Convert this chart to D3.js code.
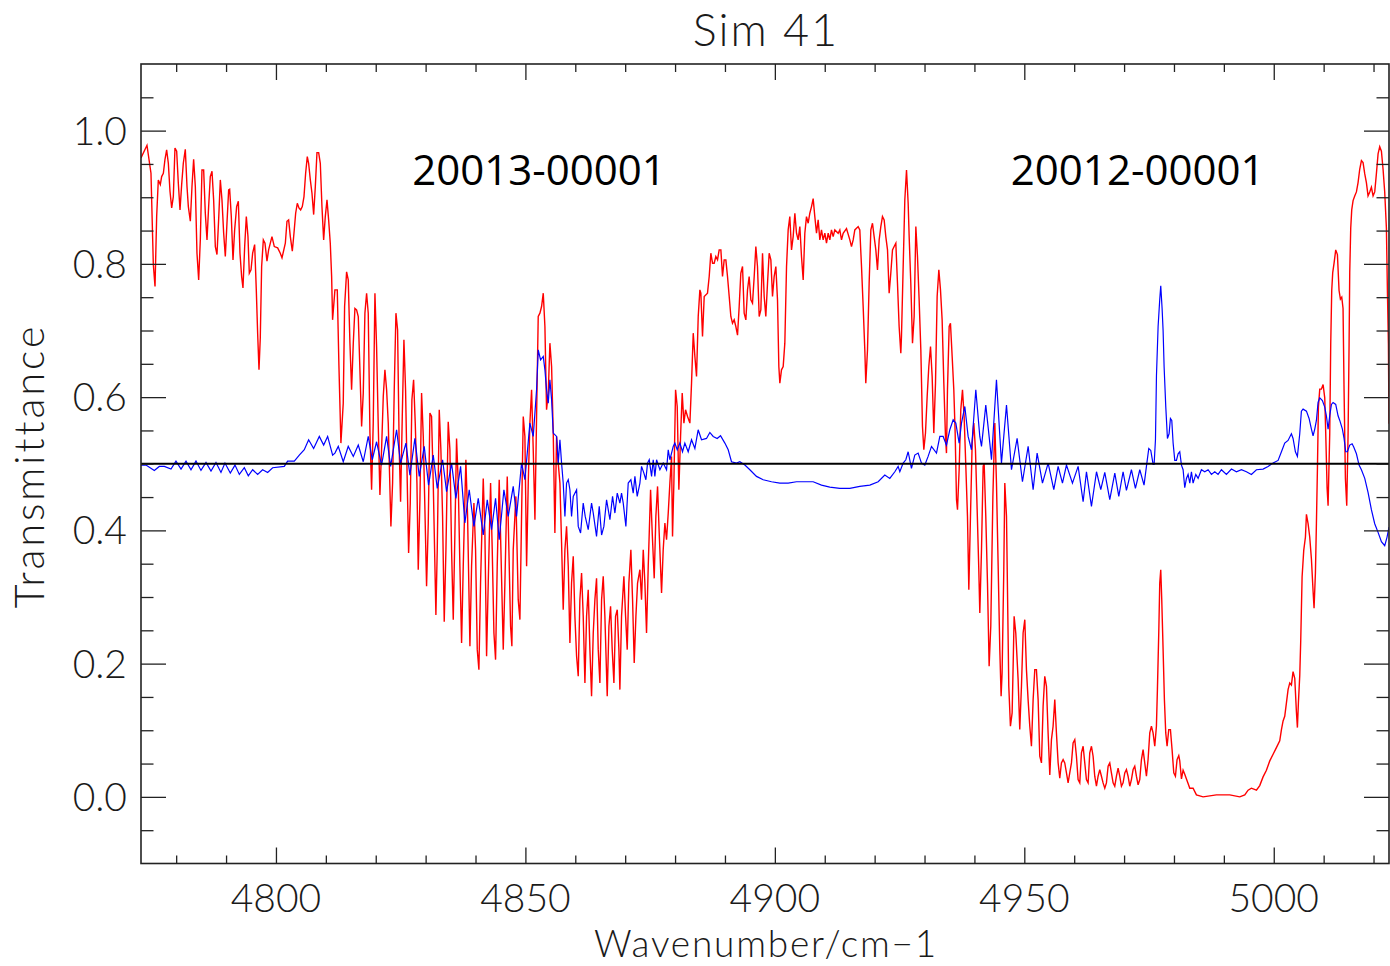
<!DOCTYPE html>
<html>
<head>
<meta charset="utf-8">
<script src="https://cdn.jsdelivr.net/npm/d3@7"></script>
<style>
  html, body { margin: 0; padding: 0; background: #fff; }
  svg { display: block; }
  .idl { font-family: "Lato", "DejaVu Sans", sans-serif; font-weight: 300; fill: #1a1a1a; }
  .band { font-family: "Open Sans", "Noto Sans", sans-serif; font-weight: 400; fill: #000; }
</style>
</head>
<body>
<svg id="chart" width="1390" height="966"></svg>
<script>
// ---------------- DATA ----------------
const chartTitle = "Sim 41";
const xTitle = "Wavenumber/cm\u22121";
const yTitle = "Transmittance";
const bandLabels = ["20013-00001", "20012-00001"];
const bandLabelWn = [4827.3, 4947.3];      // left edge of the labels (wavenumber)
const bandLabelT = [0.918, 0.918];

const xMajorTicks = [4800, 4850, 4900, 4950, 5000];
const xMinorTicks = [4780, 4790, 4810, 4820, 4830, 4840, 4860, 4870, 4880, 4890, 4910, 4920, 4930, 4940, 4960, 4970, 4980, 4990, 5010, 5020];
const yMajorTicks = [0.0, 0.2, 0.4, 0.6, 0.8, 1.0];
const yTickLabels = ["0.0", "0.2", "0.4", "0.6", "0.8", "1.0"];
const yMinorTicks = [-0.05, 0.05, 0.1, 0.15, 0.25, 0.3, 0.35, 0.45, 0.5, 0.55, 0.65, 0.7, 0.75, 0.85, 0.9, 0.95, 1.05];
const referenceLevel = [0.5];

// simulated transmittance (red): [wavenumber, transmittance]
const simulated = [
[4772.95,0.959],[4774.15,0.978],[4774.95,0.936],[4775.42,0.799],[4775.76,0.766],[4776.09,0.871],[4776.42,0.926],[4776.82,0.919],[4777.09,0.931],[4777.43,0.936],[4777.76,0.957],[4778.09,0.971],[4778.43,0.951],[4778.76,0.909],[4779.1,0.884],[4779.43,0.901],[4779.76,0.974],[4780.1,0.969],[4780.43,0.921],[4780.77,0.881],[4781.1,0.919],[4781.43,0.951],[4781.83,0.972],[4782.17,0.916],[4782.44,0.886],[4782.84,0.864],[4783.17,0.916],[4783.5,0.957],[4783.84,0.916],[4784.17,0.816],[4784.51,0.776],[4784.84,0.836],[4785.17,0.941],[4785.51,0.941],[4785.84,0.876],[4786.18,0.836],[4786.51,0.886],[4786.84,0.931],[4787.18,0.939],[4787.51,0.896],[4787.85,0.826],[4788.18,0.814],[4788.51,0.866],[4788.85,0.926],[4789.18,0.896],[4789.52,0.846],[4789.85,0.811],[4790.18,0.861],[4790.52,0.911],[4790.72,0.912],[4791.05,0.871],[4791.39,0.806],[4791.72,0.851],[4792.12,0.886],[4792.46,0.894],[4792.79,0.816],[4793.12,0.781],[4793.39,0.764],[4793.73,0.826],[4794.06,0.871],[4794.39,0.841],[4794.66,0.786],[4795.0,0.791],[4795.33,0.816],[4795.73,0.829],[4796.06,0.761],[4796.33,0.696],[4796.6,0.641],[4796.86,0.689],[4797.13,0.796],[4797.47,0.836],[4797.8,0.831],[4798.2,0.804],[4798.53,0.821],[4799.2,0.841],[4799.67,0.826],[4800.34,0.824],[4800.87,0.816],[4801.21,0.809],[4801.88,0.831],[4802.21,0.864],[4802.54,0.866],[4802.88,0.841],[4803.28,0.819],[4803.61,0.846],[4803.95,0.876],[4804.28,0.891],[4804.61,0.884],[4804.95,0.881],[4805.28,0.886],[4805.62,0.901],[4805.95,0.936],[4806.28,0.961],[4806.55,0.951],[4806.89,0.926],[4807.22,0.906],[4807.56,0.874],[4807.89,0.916],[4808.22,0.967],[4808.56,0.967],[4808.89,0.951],[4809.22,0.886],[4809.56,0.836],[4809.89,0.871],[4810.23,0.896],[4810.56,0.866],[4810.89,0.831],[4811.16,0.781],
[4811.35,0.716],[4811.82,0.761],[4812.29,0.761],[4812.62,0.648],[4813.02,0.531],[4813.49,0.591],[4813.76,0.736],[4814.16,0.788],[4814.49,0.776],[4814.83,0.681],[4815.16,0.611],[4815.5,0.681],[4815.83,0.733],[4816.16,0.731],[4816.5,0.721],[4816.83,0.641],[4817.17,0.556],[4817.5,0.606],[4817.83,0.726],[4818.17,0.756],[4818.5,0.726],[4818.84,0.546],[4819.17,0.461],[4819.5,0.561],[4819.84,0.756],[4820.17,0.676],[4820.51,0.556],[4820.84,0.453],[4821.17,0.521],[4821.51,0.601],[4821.84,0.641],[4822.18,0.611],[4822.51,0.561],[4823.04,0.406],[4823.38,0.471],[4823.71,0.611],[4824.05,0.726],[4824.38,0.701],[4824.71,0.521],[4824.98,0.443],[4825.32,0.571],[4825.65,0.686],[4825.98,0.611],[4826.32,0.471],[4826.59,0.366],[4826.92,0.441],[4827.25,0.596],[4827.59,0.626],[4827.92,0.561],[4828.26,0.471],[4828.52,0.341],[4828.86,0.446],[4829.19,0.606],[4829.53,0.541],[4829.86,0.431],[4830.19,0.316],[4830.53,0.411],[4830.86,0.576],[4831.19,0.571],[4831.53,0.471],[4832.06,0.273],[4832.33,0.371],[4832.73,0.581],[4833.06,0.521],[4833.4,0.421],[4833.73,0.263],[4834.07,0.371],[4834.53,0.563],[4834.87,0.521],[4835.2,0.371],[4835.54,0.266],[4835.87,0.396],[4836.2,0.538],[4836.54,0.471],[4836.87,0.346],[4837.21,0.231],[4837.54,0.346],[4838.07,0.506],[4838.41,0.421],[4838.88,0.226],[4839.21,0.346],[4839.68,0.441],[4840.01,0.371],[4840.35,0.221],[4840.68,0.191],[4841.01,0.321],[4841.55,0.478],[4841.88,0.396],[4842.22,0.211],[4842.55,0.321],[4843.02,0.471],[4843.35,0.371],[4843.69,0.246],[4844.02,0.206],[4844.35,0.346],[4844.75,0.476],[4845.09,0.371],[4845.56,0.221],[4845.89,0.321],[4846.36,0.481],[4846.69,0.371],[4847.03,0.256],[4847.29,0.226],[4847.56,0.371],[4848.09,0.451],[4848.56,0.296],[4848.9,0.266],
[4849.23,0.421],[4849.57,0.571],[4849.9,0.541],[4850.24,0.346],[4850.57,0.471],[4850.9,0.561],[4851.24,0.611],[4851.57,0.521],[4851.91,0.416],[4852.24,0.571],[4852.57,0.721],[4852.91,0.726],[4853.24,0.736],[4853.58,0.756],[4853.91,0.706],[4854.24,0.581],[4854.58,0.606],[4854.91,0.681],[4855.25,0.646],[4855.58,0.546],[4855.91,0.396],[4856.25,0.541],[4856.58,0.501],[4856.92,0.471],[4857.25,0.381],[4857.58,0.281],[4857.92,0.371],[4858.25,0.406],[4858.59,0.346],[4858.92,0.231],[4859.25,0.321],[4859.59,0.361],[4859.92,0.271],[4860.26,0.211],[4860.59,0.181],[4860.92,0.296],[4861.26,0.336],[4861.59,0.271],[4861.93,0.171],[4862.26,0.271],[4862.59,0.311],[4862.93,0.221],[4863.26,0.151],[4863.6,0.246],[4863.93,0.296],[4864.26,0.328],[4864.6,0.221],[4864.93,0.171],[4865.27,0.296],[4865.6,0.331],[4865.93,0.271],[4866.4,0.151],[4866.74,0.256],[4867.07,0.286],[4867.4,0.221],[4867.74,0.171],[4868.07,0.271],[4868.41,0.281],[4868.74,0.221],[4868.94,0.161],[4869.27,0.271],[4869.74,0.331],[4870.08,0.271],[4870.41,0.221],[4870.74,0.321],[4871.14,0.371],[4871.48,0.296],[4871.81,0.201],[4872.15,0.271],[4872.48,0.321],[4872.95,0.341],[4873.28,0.296],[4873.62,0.371],[4873.95,0.321],[4874.28,0.246],[4874.62,0.346],[4875.09,0.461],[4875.42,0.396],[4875.82,0.328],[4876.15,0.421],[4876.49,0.466],[4876.82,0.396],[4877.29,0.306],[4877.62,0.371],[4877.96,0.411],[4878.29,0.386],[4878.63,0.426],[4878.96,0.471],[4879.29,0.511],[4879.49,0.391],[4879.76,0.471],[4880.1,0.611],[4880.43,0.586],[4880.76,0.461],[4881.1,0.541],[4881.43,0.606],[4881.77,0.561],[4882.1,0.581],[4882.5,0.571],[4882.97,0.561],[4883.3,0.621],[4883.64,0.696],[4883.97,0.661],[4884.3,0.631],[4884.64,0.721],[4884.97,0.761],
[4885.17,0.756],[4885.5,0.691],[4885.84,0.751],[4886.5,0.756],[4886.84,0.781],[4887.17,0.816],[4887.51,0.801],[4887.84,0.801],[4888.17,0.811],[4888.51,0.806],[4888.84,0.821],[4889.18,0.821],[4889.51,0.781],[4889.84,0.806],[4890.18,0.806],[4890.51,0.781],[4890.85,0.751],[4891.18,0.721],[4891.51,0.711],[4891.85,0.716],[4892.18,0.706],[4892.52,0.693],[4892.85,0.736],[4893.18,0.786],[4893.52,0.796],[4893.85,0.726],[4894.19,0.716],[4894.52,0.761],[4894.85,0.781],[4895.19,0.746],[4895.52,0.741],[4895.86,0.781],[4896.19,0.826],[4896.52,0.796],[4896.86,0.721],[4897.19,0.731],[4897.53,0.816],[4897.86,0.751],[4898.19,0.721],[4898.53,0.771],[4898.86,0.816],[4899.2,0.806],[4899.53,0.751],[4899.86,0.781],[4900.2,0.796],[4900.53,0.746],[4900.8,0.646],[4901.0,0.621],[4901.33,0.641],[4901.67,0.646],[4902.0,0.681],[4902.34,0.796],[4902.67,0.851],[4903.0,0.871],[4903.34,0.821],[4903.67,0.841],[4904.01,0.876],[4904.34,0.846],[4904.67,0.836],[4905.01,0.856],[4905.34,0.811],[4905.68,0.776],[4906.01,0.846],[4906.34,0.871],[4906.68,0.861],[4907.01,0.876],[4907.35,0.886],[4907.68,0.898],[4908.01,0.871],[4908.35,0.846],[4908.68,0.866],[4909.02,0.836],[4909.35,0.851],[4909.68,0.836],[4910.02,0.846],[4910.35,0.831],[4910.69,0.846],[4911.02,0.836],[4911.35,0.851],[4911.69,0.841],[4912.02,0.851],[4912.69,0.846],[4913.02,0.851],[4913.36,0.836],[4913.69,0.846],[4914.36,0.853],[4915.03,0.836],[4915.36,0.826],[4915.7,0.836],[4916.03,0.851],[4916.7,0.856],[4917.03,0.851],[4917.37,0.796],[4917.7,0.736],[4918.03,0.671],[4918.23,0.621],[4918.57,0.671],[4918.9,0.771],[4919.24,0.851],[4919.57,0.861],[4919.9,0.841],[4920.24,0.821],[4920.57,0.791],[4920.91,0.836],[4921.24,0.856],[4921.57,0.871],[4921.91,0.866],[4922.24,0.841],[4922.58,0.821],[4922.91,0.756],[4923.24,0.786],[4923.58,0.821],[4923.91,0.826],[4924.25,0.831],[4924.58,0.771],[4924.91,0.706],[4925.25,0.666],
[4925.38,0.691],[4925.72,0.796],[4926.05,0.896],[4926.39,0.941],[4926.72,0.891],[4926.92,0.841],[4927.25,0.771],[4927.59,0.681],[4927.92,0.721],[4928.26,0.856],[4928.59,0.811],[4928.92,0.746],[4929.26,0.671],[4929.59,0.556],[4929.86,0.521],[4930.19,0.546],[4930.53,0.601],[4930.86,0.646],[4931.2,0.676],[4931.53,0.631],[4931.86,0.546],[4932.2,0.621],[4932.53,0.751],[4932.87,0.791],[4933.2,0.761],[4933.53,0.716],[4933.87,0.621],[4934.2,0.541],[4934.4,0.516],[4934.6,0.611],[4934.94,0.706],[4935.2,0.711],[4935.54,0.661],[4935.87,0.611],[4936.14,0.546],[4936.41,0.446],[4936.61,0.431],[4936.94,0.491],[4937.27,0.581],[4937.61,0.611],[4937.94,0.571],[4938.28,0.496],[4938.61,0.421],[4938.88,0.311],[4939.21,0.421],[4939.55,0.531],[4939.88,0.561],[4940.21,0.521],[4940.55,0.431],[4940.88,0.341],[4941.08,0.276],[4941.42,0.371],[4941.75,0.496],[4941.95,0.501],[4942.28,0.421],[4942.62,0.321],[4942.95,0.196],[4943.28,0.256],[4943.7,0.45],[4944.09,0.561],[4944.42,0.471],[4944.76,0.346],[4945.09,0.221],[4945.35,0.151],[4945.55,0.186],[4945.89,0.341],[4946.09,0.471],[4946.43,0.421],[4946.89,0.166],[4947.22,0.106],[4947.56,0.126],[4947.76,0.196],[4947.96,0.271],[4948.29,0.246],[4948.76,0.176],[4949.09,0.101],[4949.43,0.166],[4949.76,0.246],[4950.1,0.266],[4950.43,0.191],[4950.76,0.146],[4951.1,0.106],[4951.43,0.076],[4951.77,0.146],[4952.1,0.191],[4952.43,0.191],[4952.77,0.146],[4953.1,0.061],[4953.44,0.051],[4953.77,0.136],[4954.1,0.181],[4954.44,0.166],[4954.77,0.096],[4955.11,0.033],[4955.44,0.086],[4955.77,0.106],[4956.11,0.146],[4956.44,0.096],[4956.78,0.051],[4957.11,0.028],[4957.44,0.051],[4957.78,0.056],[4958.11,0.051],[4958.45,0.036],[4958.78,0.021],[4959.11,0.036],[4959.45,0.051],[4959.78,0.081],[4960.12,0.086],[4960.45,0.061],[4960.78,0.026],[4961.12,0.021],[4961.45,0.066],[4961.79,0.076],[4962.12,0.051],[4962.45,0.026],[4962.79,0.021],[4963.12,0.066],[4963.46,0.076],[4963.79,0.061],[4964.12,0.031],[4964.46,0.016],[4964.79,0.031],[4965.13,0.041],[4965.46,0.031],[4965.79,0.021],[4966.13,0.013],[4966.46,0.021],[4966.8,0.046],[4967.13,0.051],[4967.46,0.036],[4967.8,0.021],[4968.13,0.016],[4968.47,0.031],[4968.8,0.043],[4969.13,0.031],[4969.47,0.016],[4969.8,0.021],[4970.14,0.036],[4970.47,0.041],[4970.8,0.031],[4971.14,0.016],[4971.47,0.026],[4971.81,0.041],[4972.14,0.046],[4972.47,0.031],[4972.81,0.018],[4973.14,0.026],[4973.48,0.056],[4973.81,0.071],[4974.14,0.051],[4974.48,0.031],[4974.81,0.056],[4975.15,0.096],[4975.48,0.106],[4975.81,0.096],[4976.15,0.076],[4976.48,0.106],[4976.68,0.161],[4976.95,0.246],[4977.15,0.321],[4977.35,0.341],[4977.55,0.296],[4977.82,0.221],[4978.08,0.146],[4978.35,0.096],[4978.62,0.076],[4978.95,0.101],[4979.29,0.101],[4979.62,0.071],[4979.96,0.036],[4980.29,0.031],[4980.62,0.056],[4980.96,0.062],
[4981.16,0.054],[4981.5,0.027],[4981.83,0.040],[4982.16,0.034],[4982.5,0.027],[4982.83,0.020],[4983.17,0.013],[4983.83,0.013],[4984.5,0.003],[4985.84,0.0],[4988.51,0.003],[4991.18,0.003],[4993.19,0.0],[4994.19,0.003],[4994.86,0.010],[4995.52,0.013],[4996.53,0.010],[4997.19,0.017],[4997.86,0.030],[4998.53,0.040],[4999.2,0.054],[4999.87,0.064],[5000.53,0.074],[5001.2,0.084],[5001.54,0.101],[5001.87,0.114],[5002.2,0.121],[5002.54,0.141],[5002.87,0.161],[5003.21,0.171],[5003.54,0.168],[5003.87,0.188],[5004.21,0.178],[5004.54,0.128],[5004.74,0.104],[5004.94,0.141],[5005.21,0.182],[5005.41,0.235],[5005.68,0.330],[5006.01,0.370],[5006.35,0.390],[5006.55,0.424],[5006.88,0.410],[5007.21,0.390],[5007.55,0.357],[5007.88,0.309],[5008.08,0.283],[5008.35,0.336],[5008.55,0.410],[5008.75,0.491],[5008.95,0.585],[5009.22,0.612],[5009.55,0.612],[5009.89,0.619],[5010.22,0.599],[5010.42,0.545],[5010.69,0.464],[5010.89,0.437],[5011.22,0.545],[5011.42,0.680],[5011.62,0.760],[5011.82,0.787],[5012.09,0.801],[5012.42,0.821],[5012.76,0.814],[5013.09,0.760],[5013.36,0.747],[5013.63,0.750],[5013.89,0.733],[5014.09,0.612],[5014.36,0.478],[5014.63,0.437],[5014.9,0.545],[5015.1,0.680],[5015.23,0.787],[5015.43,0.854],[5015.63,0.881],[5015.9,0.895],[5016.23,0.902],[5016.57,0.908],[5016.9,0.922],[5017.23,0.942],[5017.57,0.955],[5017.9,0.952],[5018.24,0.935],[5018.57,0.922],[5018.9,0.902],[5019.24,0.908],[5019.57,0.915],[5019.91,0.902],[5020.24,0.908],[5020.57,0.935],[5020.91,0.965],[5021.24,0.976],[5021.58,0.969],[5021.91,0.942],[5022.24,0.908],[5022.58,0.854],[5022.78,0.760],[5022.98,0.680],[5023.1,0.56]
];

// difference trace offset to 0.5 (blue): [wavenumber, value]
const difference = [
[4772.95,0.498],[4773.95,0.498],[4775.62,0.490],[4776.62,0.496],[4777.63,0.496],[4778.96,0.492],[4779.96,0.504],[4780.97,0.492],[4781.97,0.504],[4782.97,0.491],[4783.97,0.504],[4784.97,0.490],[4785.98,0.502],[4786.98,0.489],[4787.98,0.502],[4788.98,0.487],[4789.78,0.501],[4790.85,0.486],[4791.79,0.498],[4792.66,0.484],[4793.66,0.494],[4794.46,0.482],[4795.33,0.491],[4796.33,0.484],[4797.33,0.491],[4798.33,0.487],[4799.34,0.494],[4801.67,0.496],[4802.34,0.504],[4803.68,0.504],[4804.68,0.513],[4805.68,0.521],[4806.55,0.536],[4807.55,0.523],[4808.69,0.541],[4809.56,0.528],[4810.36,0.541],[4811.36,0.513],[4811.82,0.516],[4812.49,0.526],[4813.49,0.503],[4814.49,0.526],[4815.5,0.511],[4816.5,0.528],[4817.5,0.503],[4818.5,0.541],[4819.3,0.506],[4820.17,0.533],[4821.17,0.498],[4822.18,0.541],[4822.98,0.496],[4824.18,0.551],[4824.98,0.501],[4826.05,0.531],[4826.85,0.483],[4827.85,0.538],[4828.72,0.481],[4829.72,0.526],[4830.59,0.468],[4831.53,0.513],[4832.33,0.463],[4833.4,0.506],[4834.2,0.458],[4835.2,0.501],[4836.07,0.448],[4837.01,0.496],[4837.87,0.411],[4838.74,0.461],[4839.68,0.406],[4840.55,0.448],[4841.55,0.393],[4842.35,0.446],[4843.22,0.401],[4844.02,0.448],[4844.75,0.386],[4845.69,0.461],[4846.56,0.421],[4847.56,0.466],[4848.23,0.421],[4849.23,0.501],[4849.9,0.476],[4850.9,0.561],[4851.57,0.541],[4852.24,0.611],[4852.57,0.671],[4853.04,0.656],[4853.58,0.661],[4853.91,0.641],[4854.24,0.611],[4854.58,0.591],[4854.91,0.626],[4855.25,0.596],[4855.58,0.546],[4856.25,0.541],[4856.58,0.501],[4856.92,0.536],[4857.25,0.501],[4857.58,0.471],[4857.92,0.421],[4858.25,0.471],[4858.59,0.476],[4858.92,0.461],[4859.25,0.421],[4859.59,0.451],[4860.26,0.461],[4860.59,0.406],[4861.06,0.396],[4861.59,0.441],[4861.99,0.421],[4862.59,0.401],[4863.26,0.441],[4863.6,0.426],[4864.26,0.391],[4864.8,0.436],[4865.27,0.393],[4865.73,0.406],[4866.27,0.446],[4866.94,0.416],[4867.47,0.451],[4867.94,0.426],[4868.41,0.456],[4868.94,0.441],[4869.27,0.456],[4869.61,0.441],[4870.14,0.406],[4870.61,0.471],[4871.14,0.476],[4871.61,0.456],[4871.95,0.481],[4872.41,0.451],[4872.95,0.471],[4873.28,0.496],[4873.75,0.486],[4874.15,0.476],[4874.48,0.501],[4874.82,0.506],[4875.29,0.481],[4875.62,0.506],[4875.95,0.481],[4876.29,0.506],[4876.96,0.491],[4877.62,0.501],[4878.29,0.491],[4878.63,0.521],[4878.96,0.506],[4879.63,0.526],[4879.96,0.531],[4880.43,0.521],[4880.96,0.531],[4881.49,0.518],[4881.96,0.531],[4882.63,0.518],[4883.3,0.536],[4883.97,0.523],[4884.63,0.551],[4885.3,0.536],[4886.3,0.538],[4886.97,0.547],[4887.64,0.541],[4888.44,0.538],[4889.11,0.542],[4889.98,0.531],[4890.65,0.521],[4891.31,0.503],[4892.32,0.501],[4892.98,0.503],[4893.99,0.498],[4894.99,0.491],[4896.32,0.481],[4897.66,0.476],[4899.33,0.473],[4901.0,0.471],[4902.67,0.471],[4904.34,0.473],[4906.01,0.473],[4907.68,0.473],[4909.35,0.468],[4911.02,0.465],[4913.02,0.463],[4915.03,0.463],[4917.03,0.466],[4919.04,0.468],[4920.71,0.473],[4922.04,0.483],[4923.04,0.478],[4924.05,0.488],[4924.71,0.496],[4925.05,0.488],[4925.72,0.501],[4926.25,0.506],[4926.72,0.518],[4927.38,0.493],[4928.05,0.513],[4928.72,0.516],[4929.39,0.501],[4930.06,0.498],[4930.72,0.511],[4931.4,0.526],[4932.4,0.516],[4933.07,0.541],[4933.73,0.541],[4934.4,0.528],[4935.07,0.551],[4935.74,0.566],[4936.27,0.561],[4936.94,0.531],[4937.41,0.561],[4938.08,0.586],[4938.74,0.541],[4939.41,0.521],[4940.28,0.611],[4941.08,0.541],[4941.42,0.526],[4942.28,0.588],[4943.09,0.531],[4943.42,0.506],[4944.42,0.626],[4945.42,0.501],[4946.43,0.588],[4947.43,0.491],[4948.56,0.538],[4949.63,0.473],[4950.77,0.526],[4951.77,0.461],[4952.57,0.516],[4953.64,0.471],[4954.78,0.501],[4955.91,0.461],[4956.78,0.496],[4957.65,0.471],[4958.45,0.498],[4959.65,0.471],[4960.79,0.496],[4961.79,0.443],[4962.46,0.488],[4963.46,0.436],[4964.47,0.488],[4965.33,0.461],[4966.13,0.487],[4967.13,0.446],[4968.14,0.486],[4968.94,0.451],[4969.8,0.488],[4970.47,0.460],[4971.47,0.491],[4972.27,0.463],[4973.15,0.491],[4974.0,0.468],[4974.48,0.496],[4974.95,0.523],[4975.35,0.520],[4975.82,0.499],[4976.02,0.499],[4976.29,0.536],[4976.49,0.632],[4976.82,0.706],[4977.15,0.747],[4977.35,0.767],[4977.62,0.733],[4977.82,0.700],[4978.02,0.646],[4978.36,0.585],[4978.69,0.538],[4979.02,0.545],[4979.29,0.568],[4979.56,0.565],[4979.83,0.531],[4980.16,0.505],[4980.49,0.505],[4980.83,0.515],[4981.16,0.518],[4981.5,0.498],[4981.83,0.491],[4982.16,0.464],[4982.5,0.478],[4982.83,0.484],[4983.17,0.471],[4983.5,0.488],[4983.83,0.471],[4984.37,0.484],[4984.84,0.478],[4985.5,0.491],[4986.17,0.488],[4986.84,0.491],[4987.51,0.484],[4988.18,0.488],[4988.84,0.484],[4989.51,0.491],[4990.51,0.484],[4991.52,0.492],[4992.52,0.488],[4993.52,0.491],[4994.52,0.488],[4995.52,0.484],[4996.53,0.491],[4997.86,0.492],[4998.86,0.496],[4999.87,0.501],[5000.87,0.505],[5001.54,0.518],[5002.2,0.531],[5002.87,0.535],[5003.54,0.545],[5003.87,0.538],[5004.34,0.518],[5004.74,0.511],[5005.21,0.545],[5005.54,0.579],[5005.88,0.582],[5006.55,0.579],[5007.08,0.568],[5007.55,0.552],[5007.88,0.542],[5008.22,0.552],[5008.55,0.565],[5008.88,0.592],[5009.22,0.599],[5009.75,0.595],[5010.22,0.585],[5010.55,0.572],[5010.89,0.552],[5011.22,0.572],[5011.56,0.589],[5011.89,0.592],[5012.42,0.589],[5012.89,0.572],[5013.23,0.565],[5013.76,0.552],[5014.09,0.538],[5014.43,0.518],[5014.76,0.518],[5015.23,0.528],[5015.7,0.530],[5016.03,0.525],[5016.57,0.515],[5017.1,0.498],[5017.57,0.491],[5018.24,0.478],[5018.9,0.457],[5019.57,0.431],[5020.24,0.410],[5020.91,0.397],[5021.58,0.383],[5022.24,0.377],[5022.71,0.390],[5023.1,0.405]
];

// ---------------- CHART ----------------
const plot = { left: 141, right: 1389, top: 64, bottom: 863.5 };
const svg = d3.select("#chart");

const x = d3.scaleLinear().domain([4772.95, 5023.1]).range([plot.left, plot.right]);
const y = d3.scaleLinear().domain([-0.1, 1.1]).range([plot.bottom, plot.top]);

svg.append("defs").append("clipPath").attr("id", "plotclip")
  .append("rect").attr("x", plot.left).attr("y", plot.top)
  .attr("width", plot.right - plot.left).attr("height", plot.bottom - plot.top);

const lineGen = d3.line().x(d => x(d[0])).y(d => y(d[1]));

const g = svg.append("g").attr("clip-path", "url(#plotclip)");

g.append("path").datum(simulated)
  .attr("d", lineGen).attr("fill", "none")
  .attr("stroke", "#ff0000").attr("stroke-width", 1.4);

g.append("path").datum(difference)
  .attr("d", lineGen).attr("fill", "none")
  .attr("stroke", "#0000ff").attr("stroke-width", 1.2);

g.selectAll("line.ref").data(referenceLevel).enter().append("line")
  .attr("class", "ref")
  .attr("x1", plot.left).attr("x2", plot.right)
  .attr("y1", d => y(d)).attr("y2", d => y(d))
  .attr("stroke", "#000").attr("stroke-width", 2.2);

// axes (IDL style box with inward ticks)
const axisColor = "#222";
function styleAxis(sel) {
  sel.select(".domain").remove();
  sel.selectAll(".tick line").attr("stroke", axisColor).attr("stroke-width", 1.3);
  sel.selectAll(".tick text").remove();
}
const xMajLen = 16, xMinLen = 8, yMajLen = 25, yMinLen = 12.5;

svg.append("g").attr("transform", `translate(0,${plot.bottom})`)
  .call(d3.axisBottom(x).tickValues(xMajorTicks).tickSize(-xMajLen)).call(styleAxis);
svg.append("g").attr("transform", `translate(0,${plot.bottom})`)
  .call(d3.axisBottom(x).tickValues(xMinorTicks).tickSize(-xMinLen)).call(styleAxis);
svg.append("g").attr("transform", `translate(0,${plot.top})`)
  .call(d3.axisTop(x).tickValues(xMajorTicks).tickSize(-xMajLen)).call(styleAxis);
svg.append("g").attr("transform", `translate(0,${plot.top})`)
  .call(d3.axisTop(x).tickValues(xMinorTicks).tickSize(-xMinLen)).call(styleAxis);
svg.append("g").attr("transform", `translate(${plot.left},0)`)
  .call(d3.axisLeft(y).tickValues(yMajorTicks).tickSize(-yMajLen)).call(styleAxis);
svg.append("g").attr("transform", `translate(${plot.left},0)`)
  .call(d3.axisLeft(y).tickValues(yMinorTicks).tickSize(-yMinLen)).call(styleAxis);
svg.append("g").attr("transform", `translate(${plot.right},0)`)
  .call(d3.axisRight(y).tickValues(yMajorTicks).tickSize(-yMajLen)).call(styleAxis);
svg.append("g").attr("transform", `translate(${plot.right},0)`)
  .call(d3.axisRight(y).tickValues(yMinorTicks).tickSize(-yMinLen)).call(styleAxis);

svg.append("rect").attr("x", plot.left).attr("y", plot.top)
  .attr("width", plot.right - plot.left).attr("height", plot.bottom - plot.top)
  .attr("fill", "none").attr("stroke", axisColor).attr("stroke-width", 1.6);

// tick labels
svg.selectAll("text.xt").data(xMajorTicks).enter().append("text")
  .attr("class", "idl xt").attr("x", d => x(d)).attr("y", 912)
  .attr("text-anchor", "middle").attr("font-size", 39).text(d => d);
svg.selectAll("text.yt").data(yMajorTicks).enter().append("text")
  .attr("class", "idl yt").attr("x", 127).attr("y", d => y(d) + 14)
  .attr("text-anchor", "end").attr("font-size", 39).text((d, i) => yTickLabels[i]);

// titles
svg.append("text").attr("class", "idl").attr("x", 766).attr("y", 46)
  .attr("text-anchor", "middle").attr("font-size", 45).attr("letter-spacing", 2).text(chartTitle);
svg.append("text").attr("class", "idl").attr("x", 766).attr("y", 957)
  .attr("text-anchor", "middle").attr("font-size", 37).attr("letter-spacing", 1.8).text(xTitle);
svg.append("text").attr("class", "idl")
  .attr("transform", `translate(44,466) rotate(-90)`)
  .attr("text-anchor", "middle").attr("font-size", 41).attr("letter-spacing", 3).text(yTitle);

// band labels
svg.selectAll("text.band").data(bandLabels).enter().append("text")
  .attr("class", "band").attr("x", (d, i) => x(bandLabelWn[i]))
  .attr("y", (d, i) => y(bandLabelT[i])).attr("font-size", 42).text(d => d);
</script>
</body>
</html>
